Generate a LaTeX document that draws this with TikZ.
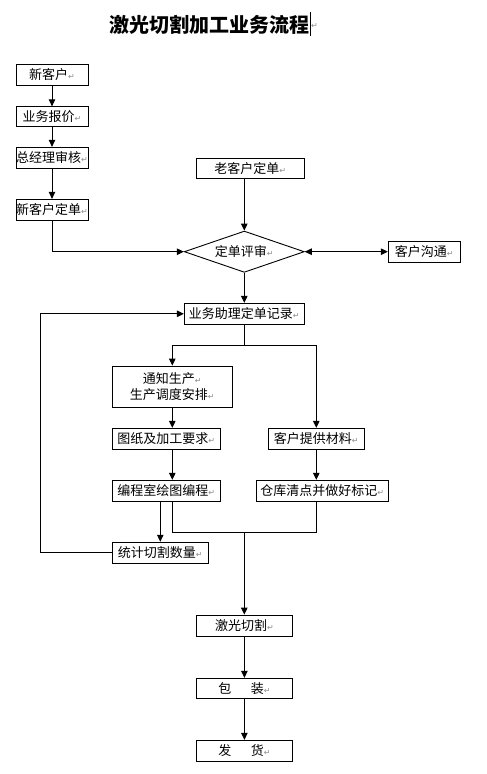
\documentclass[tikz,border=0pt]{standalone}
\usepackage{fontspec}
\setmainfont{Noto Sans CJK SC}
\newfontfamily\symfont{DejaVu Sans}
\usetikzlibrary{shapes.geometric,arrows.meta,calc}
\newcommand\rt{{\symfont\fontsize{8}{8}\selectfont\textcolor{black!45}{↵}}}
\begin{document}
\begin{tikzpicture}[x=1pt,y=-1pt,
  box/.style={draw,line width=0.9pt,rectangle,inner sep=0pt,font=\fontsize{13}{16}\selectfont},
  dia/.style={draw,line width=0.9pt,diamond,shape aspect=3,inner sep=0pt,minimum width=120pt,minimum height=41.3pt,font=\fontsize{13}{16}\selectfont},
  ln/.style={line width=0.9pt},
  arr/.style={line width=0.9pt,-{Triangle[width=6.5pt,length=7pt]}},
  barr/.style={line width=0.9pt,{Triangle[width=6.5pt,length=7pt]}-{Triangle[width=6.5pt,length=7pt]}}]
\useasboundingbox (0,0) rectangle (487,774);
\node[font=\fontsize{20}{22}\selectfont\bfseries] (title) at (209,25) {激光切割加工业务流程};
\draw[line width=1pt] (310,12) -- (310,36) coordinate (cur);
\node[anchor=west,inner sep=0pt] (tret) at (311,26) {\rt};

\node[box,minimum width=72pt,minimum height=21pt] (n1) at (52,74.8) {新客户\rt};
\node[box,minimum width=72pt,minimum height=20pt] (n2) at (52,116.8) {业务报价\rt};
\node[box,minimum width=72pt,minimum height=21pt] (n3) at (52,157.8) {总经理审核\rt};
\node[box,minimum width=72pt,minimum height=21pt] (n4) at (52,209.8) {新客户定单\rt};
\node[box,minimum width=108pt,minimum height=20pt] (old) at (250.3,168.3) {老客户定单\rt};
\node[dia] (dia) at (244.3,251.7) {定单评审\rt};
\node[box,minimum width=72pt,minimum height=21pt] (comm) at (424.3,251.7) {客户沟通\rt};
\node[box,minimum width=120pt,minimum height=21pt] (rec) at (244.3,313.8) {业务助理定单记录\rt};
\node[box,minimum width=120pt,minimum height=41.3pt,align=center] (notify) at (172.3,386.7) {通知生产\rt\\生产调度安排\rt};
\node[box,minimum width=108pt,minimum height=21pt] (draw) at (166.3,438.8) {图纸及加工要求\rt};
\node[box,minimum width=108pt,minimum height=21pt] (prog) at (166.3,490.8) {编程室绘图编程\rt};
\node[box,minimum width=96pt,minimum height=21pt] (mat) at (316.3,438.8) {客户提供材料\rt};
\node[box,minimum width=132pt,minimum height=21pt] (wh) at (322.3,490.8) {仓库清点并做好标记\rt};
\node[box,minimum width=96pt,minimum height=21pt] (stat) at (160.3,552.7) {统计切割数量\rt};
\node[box,minimum width=96.4pt,minimum height=21.3pt] (cut) at (244.4,625.7) {激光切割\rt};
\node[box,minimum width=96.4pt,minimum height=20pt] (pack) at (244.4,688.3) {包\hspace{1.5em}装\rt};
\node[box,minimum width=96.4pt,minimum height=21pt] (ship) at (244.4,750.8) {发\hspace{1.5em}货\rt};

\coordinate (sp) at (244.3,345.3);
\coordinate (jn) at (244.3,532);
\coordinate (lp) at (40.3,430);

\draw[arr] (n1) -- (n2);
\draw[arr] (n2) -- (n3);
\draw[arr] (n3) -- (n4);
\draw[arr] (n4.south) |- (dia.west);
\draw[arr] (old.south -| dia.north) -- (dia.north);
\draw[barr] (dia.east) -- (comm.west);
\draw[arr] (dia.south) -- (rec.north);
\draw[ln] (rec.south) -- (sp);
\draw[arr] (sp) -| (notify.north);
\draw[arr] (sp) -| (mat.north);
\draw[arr] (notify.south) -- (notify.south |- draw.north);
\draw[arr] (notify.south |- draw.south) -- (notify.south |- prog.north);
\draw[arr] (mat.south) -- (mat.south |- wh.north);
\draw[arr] (stat.north |- prog.south) -- (stat.north);
\draw[ln] (notify.south |- prog.south) |- (jn);
\draw[ln] (mat.south |- wh.south) |- (jn);
\draw[arr] (jn) -- (jn |- cut.north);
\draw[arr] (stat.west) -| (lp) |- (rec.west);
\draw[arr] (cut) -- (pack);
\draw[arr] (pack) -- (ship);
\end{tikzpicture}
\end{document}
